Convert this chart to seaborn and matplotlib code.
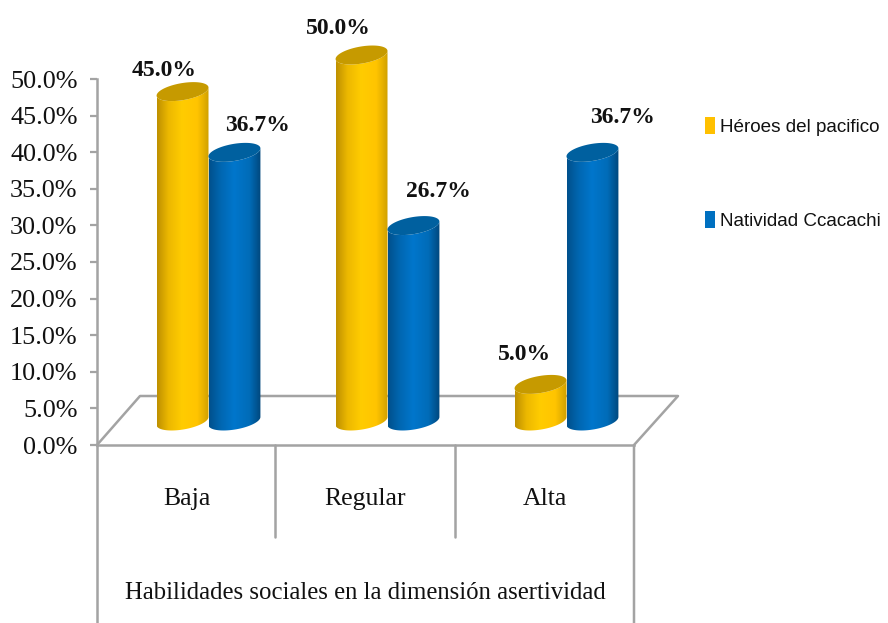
import numpy as np
import pandas as pd
import matplotlib
matplotlib.use("Agg")
import matplotlib.pyplot as plt
import seaborn as sns
from matplotlib.lines import Line2D
from matplotlib.patches import Patch, PathPatch
from matplotlib.path import Path

# === Data ===
categories = ["Baja", "Regular", "Alta"]
series_names = ["Héroes del pacifico", "Natividad Ccacachi"]
heroes = [45.0, 50.0, 5.0]
natividad = [36.7, 26.7, 36.7]
y_ticks = [0, 5, 10, 15, 20, 25, 30, 35, 40, 45, 50]
x_title = "Habilidades sociales en la dimensión asertividad"

W, H = 888, 623
GRAY = "#A3A3A3"
SERIF = "Liberation Serif"
SANS = "Liberation Sans"
PX_X = 1 / 179.0   # category units per pixel
PX_Y = 1 / 7.32    # percent per pixel

colors = ["#FFC000", "#0070C0"]
caps = ["#C69A00", "#00609F"]
stops = [
    [(0.0, "#BE9000"), (0.22, "#ECB800"), (0.48, "#FFCC00"), (0.78, "#FFC400"), (1.0, "#D0A000")],
    [(0.0, "#00508C"), (0.22, "#0066B0"), (0.48, "#0076CC"), (0.78, "#006CB8"), (1.0, "#00477C")],
]
# label offsets from the top of each cylinder, pixels
label_offsets = [
    [(-18, 21), (-23, 26), (-16, 30)],
    [(23, 27), (25, 34), (30, 35)],
]

df = pd.DataFrame({
    "cat": categories * 2,
    "serie": [series_names[0]] * 3 + [series_names[1]] * 3,
    "valor": heroes + natividad,
})


def axes_rect(left, right, top, bottom):
    return [left / W, 1 - bottom / H, (right - left) / W, (bottom - top) / H]


sns.set_style("white")
plt.rcParams["font.family"] = [SERIF, "DejaVu Sans"]

fig = plt.figure(figsize=(W / 100, H / 100), dpi=100, facecolor="white")

# === Front frame with the axis ===
ax = fig.add_axes(axes_rect(97, 634, 79, 445))
ax.set_xlim(-0.5, 2.5)
ax.set_ylim(0, 50)
ax.set_yticks(y_ticks)
ax.set_yticklabels([f"{v:.1f}%" for v in y_ticks], fontsize=18.8, color="#111111")
ax.set_xticks(range(3))
ax.set_xticklabels(categories, fontsize=18.5, color="#111111")
ax.tick_params(axis="y", length=5, width=1.6, color=GRAY, left=True, pad=9)
ax.tick_params(axis="x", length=0, pad=31)
ax.set_xlabel(x_title, fontsize=17.8, color="#111111", labelpad=52)
for side in ["top", "right"]:
    ax.spines[side].set_visible(False)
for side in ["left", "bottom"]:
    ax.spines[side].set_color(GRAY)
    ax.spines[side].set_linewidth(1.8)
ax.patch.set_alpha(0)


def frame_line(xs, ys):
    fig.add_artist(Line2D([x / W for x in xs], [1 - y / H for y in ys],
                          color=GRAY, lw=1.8, zorder=0))


# floor and the category dividers
frame_line([97, 140, 678, 634, 634], [445, 396, 396, 445, 623])
frame_line([97, 97], [445, 623])
frame_line([275, 275], [445, 537])
frame_line([455, 455], [445, 537])

# === Cylinders, on axes shifted back by the depth of the floor ===
bars = fig.add_axes(axes_rect(97 + 22, 634 + 22, 79 - 24 - 5 * 7.32, 445 - 24 + 3 * 7.32))
bars.patch.set_alpha(0)
sns.barplot(data=df, x="cat", y="valor", hue="serie", order=categories,
            hue_order=series_names, palette=colors, width=0.58, gap=0,
            legend=False, ax=bars)
bars.set_xlim(-0.5, 2.5)
bars.set_ylim(-3, 55)
bars.axis("off")

t = np.linspace(0, 2 * np.pi, 120)
for s, container in enumerate(bars.containers):
    pos, cols = zip(*stops[s])
    gx = np.linspace(0, 1, 200)
    rgb = np.array([np.interp(gx, pos, [matplotlib.colors.to_rgb(c)[i] for c in cols])
                    for i in range(3)]).T[np.newaxis, :, :]
    for j, rect in enumerate(container.patches):
        rect.set_visible(False)
        x0, w, h = rect.get_x(), rect.get_width(), rect.get_height()
        cx = x0 + w / 2
        ex = cx + w / 2 * np.cos(t)
        ey = (4 * np.cos(t) + 8.6 * np.sin(t)) * PX_Y

        # side of the cylinder: lower half of the base plus the top ellipse
        low = np.sin(t) <= 0
        order = np.argsort(ex[low])
        body_x = np.r_[ex[low][order], ex[low][order][::-1]]
        body_y = np.r_[ey[low][order], (ey[low][order] + h)[::-1]]
        clip = PathPatch(Path(np.c_[body_x, body_y]), transform=bars.transData,
                         fc="none", ec="none")
        bars.add_patch(clip)
        im = bars.imshow(rgb, extent=[x0, x0 + w, -3, 55], aspect="auto",
                         zorder=3 + s, interpolation="bilinear")
        im.set_clip_path(clip)
        bars.fill(ex, ey + h, color=caps[s], lw=0, zorder=3 + s)

        bars.annotate(f"{h:.1f}%", (cx, h), xytext=label_offsets[s][j],
                      textcoords="offset pixels", ha="center", va="center",
                      fontsize=17, fontweight="bold", color="#111111",
                      annotation_clip=False, zorder=10)
bars.set_xlim(-0.5, 2.5)
bars.set_ylim(-3, 55)

# === Legend ===
handles = [Patch(fc=colors[0], ec="none"), Patch(fc=colors[1], ec="none")]
fig.legend(handles, series_names, loc="upper left",
           bbox_to_anchor=(705 / W, 1 - 117 / H), frameon=False,
           prop={"family": SANS, "size": 13.6}, handlelength=0.55, handleheight=1.0,
           handletextpad=0.25, labelspacing=4.0, borderpad=0, borderaxespad=0,
           labelcolor="#111111")

fig.savefig("out.png", dpi=100)
